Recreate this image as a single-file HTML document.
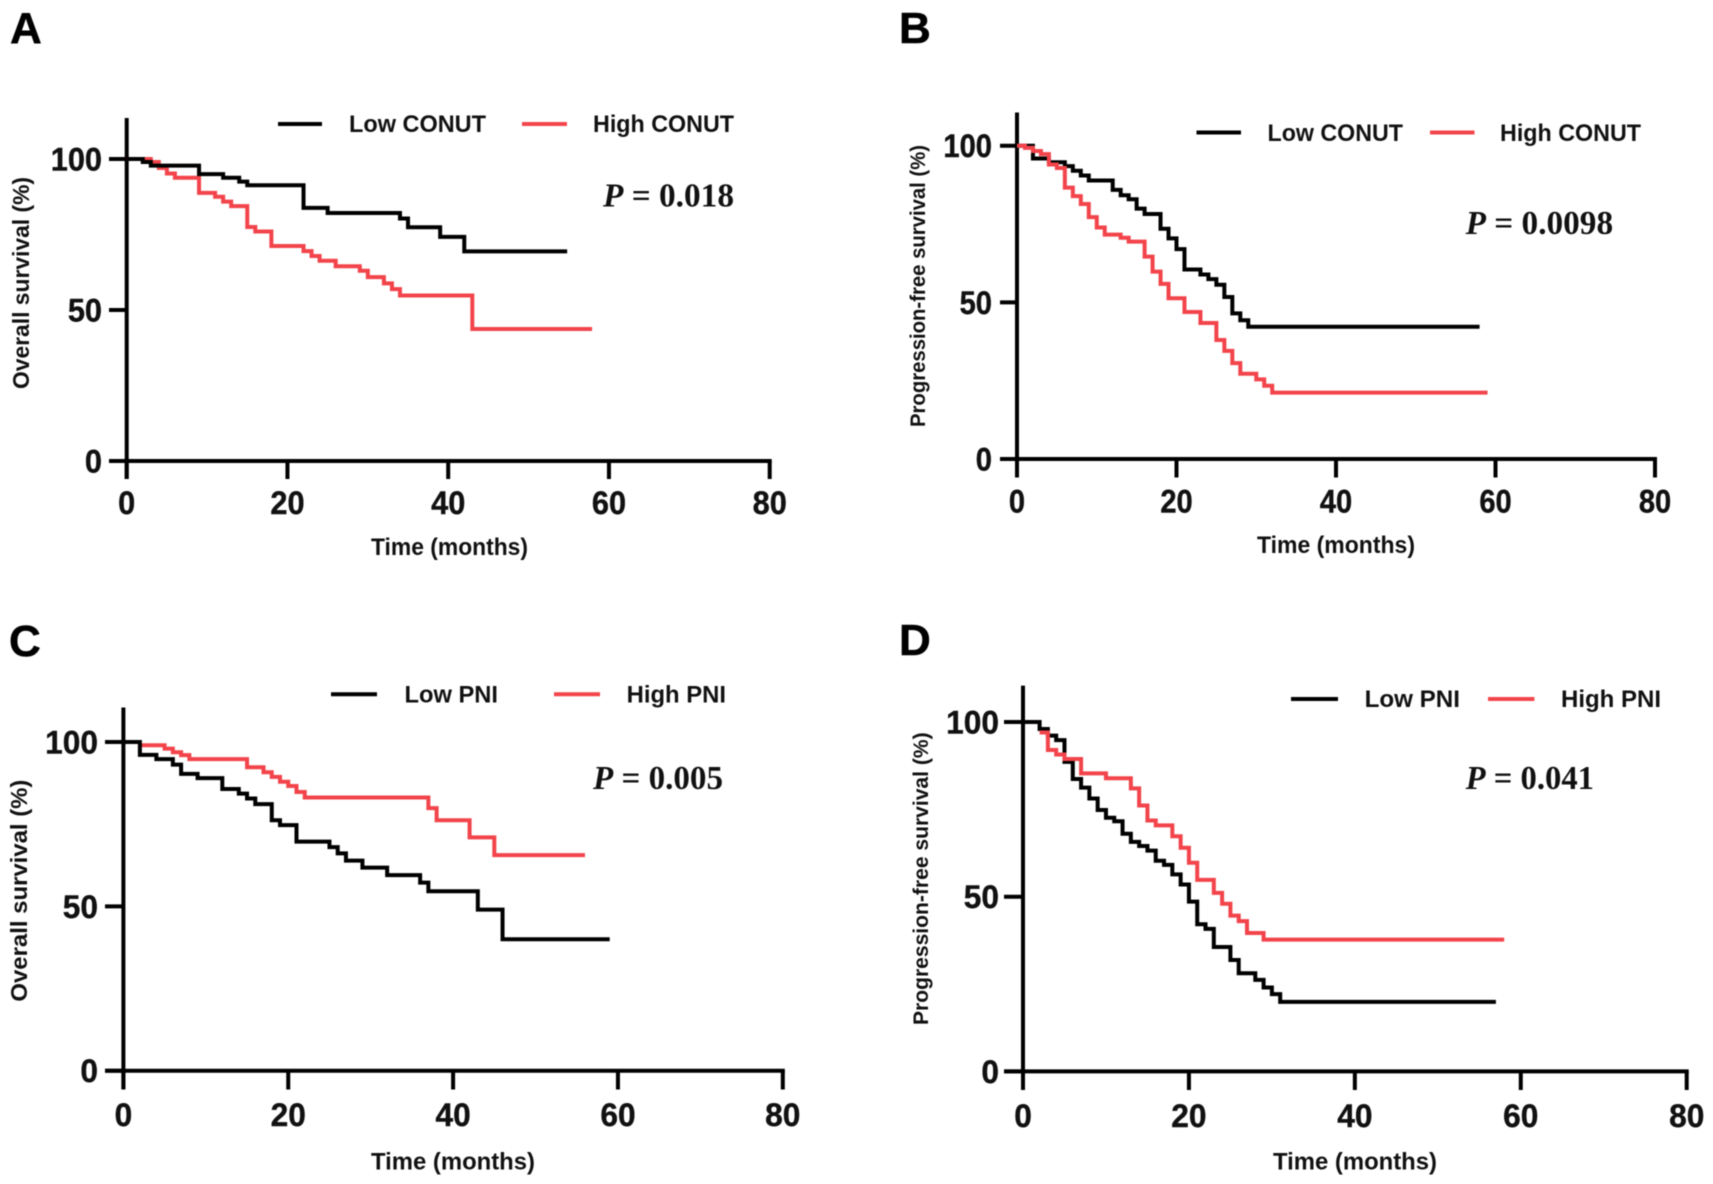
<!DOCTYPE html>
<html lang="en">
<head>
<meta charset="utf-8">
<title>Kaplan-Meier survival curves by CONUT and PNI</title>
<style>
html,body{margin:0;padding:0;background:#fff;}
svg{display:block;filter:blur(0.4px);}
text{font-family:"Liberation Sans",sans-serif;font-weight:bold;fill:#111;}
.p-value{font-family:"Liberation Serif",serif;}
.letter{font-size:44px;fill:#000;stroke:#000;stroke-width:0.5px;}
.legend{font-size:24px;}
.axis-title{font-size:24px;}
.axis-title-y{font-size:23px;}
.axis-title-y-small{font-size:21px;}
</style>
</head>
<body>
<svg id="figure" xmlns="http://www.w3.org/2000/svg" width="1713" height="1184" viewBox="0 0 1713 1184">
  <rect width="1713" height="1184" fill="#fff"/>

  <g id="panel-a">
    <text class="letter" x="10" y="43">A</text>
    <line x1="278" x2="322" y1="124" y2="124" stroke="#000" stroke-width="4"/>
    <text class="legend" x="349" y="132" textLength="137" lengthAdjust="spacingAndGlyphs">Low CONUT</text>
    <line x1="522" x2="567" y1="124" y2="124" stroke="#f2444a" stroke-width="4"/>
    <text class="legend" x="593" y="132" textLength="141" lengthAdjust="spacingAndGlyphs">High CONUT</text>
    <text class="p-value" x="603" y="206.5" font-size="34" textLength="131" lengthAdjust="spacingAndGlyphs"><tspan font-style="italic">P</tspan> = 0.018</text>
    <text class="axis-title" x="371" y="555" textLength="157" lengthAdjust="spacingAndGlyphs">Time (months)</text>
    <text class="axis-title-y" transform="translate(29,389) rotate(-90)" textLength="212" lengthAdjust="spacingAndGlyphs">Overall survival (%)</text>
  </g>

  <g id="panel-b">
    <text class="letter" x="899" y="43">B</text>
    <line x1="1196.5" x2="1241" y1="132.5" y2="132.5" stroke="#000" stroke-width="4"/>
    <text class="legend" x="1267.5" y="141" textLength="135.5" lengthAdjust="spacingAndGlyphs">Low CONUT</text>
    <line x1="1430" x2="1474.5" y1="132.5" y2="132.5" stroke="#f2444a" stroke-width="4"/>
    <text class="legend" x="1500" y="141" textLength="141" lengthAdjust="spacingAndGlyphs">High CONUT</text>
    <text class="p-value" x="1465.6" y="234" font-size="34" textLength="147.5" lengthAdjust="spacingAndGlyphs"><tspan font-style="italic">P</tspan> = 0.0098</text>
    <text class="axis-title" x="1257" y="553" textLength="158" lengthAdjust="spacingAndGlyphs">Time (months)</text>
    <text class="axis-title-y-small" transform="translate(925,427) rotate(-90)" textLength="282" lengthAdjust="spacingAndGlyphs">Progression-free survival (%)</text>
  </g>

  <g id="panel-c">
    <text class="letter" x="9" y="656">C</text>
    <line x1="331" x2="377" y1="694.3" y2="694.3" stroke="#000" stroke-width="4"/>
    <text class="legend" x="404.5" y="702.6" textLength="93.5" lengthAdjust="spacingAndGlyphs">Low PNI</text>
    <line x1="554" x2="600" y1="694.3" y2="694.3" stroke="#f2444a" stroke-width="4"/>
    <text class="legend" x="626.6" y="702.6" textLength="99.4" lengthAdjust="spacingAndGlyphs">High PNI</text>
    <text class="p-value" x="593" y="789" font-size="34" textLength="130" lengthAdjust="spacingAndGlyphs"><tspan font-style="italic">P</tspan> = 0.005</text>
    <text class="axis-title" x="371" y="1169.6" textLength="164" lengthAdjust="spacingAndGlyphs">Time (months)</text>
    <text class="axis-title-y" transform="translate(27,1001.6) rotate(-90)" textLength="222" lengthAdjust="spacingAndGlyphs">Overall survival (%)</text>
  </g>

  <g id="panel-d">
    <text class="letter" x="899" y="655">D</text>
    <line x1="1291" x2="1338" y1="699" y2="699" stroke="#000" stroke-width="4"/>
    <text class="legend" x="1364.6" y="707" textLength="95.4" lengthAdjust="spacingAndGlyphs">Low PNI</text>
    <line x1="1488" x2="1534.4" y1="699" y2="699" stroke="#f2444a" stroke-width="4"/>
    <text class="legend" x="1561" y="707" textLength="100" lengthAdjust="spacingAndGlyphs">High PNI</text>
    <text class="p-value" x="1465.6" y="789" font-size="34" textLength="128.4" lengthAdjust="spacingAndGlyphs"><tspan font-style="italic">P</tspan> = 0.041</text>
    <text class="axis-title" x="1273" y="1169.6" textLength="164" lengthAdjust="spacingAndGlyphs">Time (months)</text>
    <text class="axis-title-y-small" transform="translate(928,1025) rotate(-90)" textLength="292.6" lengthAdjust="spacingAndGlyphs">Progression-free survival (%)</text>
  </g>
</svg>

<script>
// Shared tick labels
const xTickLabels = [0, 20, 40, 60, 80];
const yTickLabels = [0, 50, 100];

// Panel A: overall survival by CONUT
const timesALow = [0, 2, 3, 9, 12, 14, 15, 22, 25, 34, 35, 39, 42, 54.8];
const survivalALow = [100, 99, 97.8, 95, 93.8, 92.5, 91.3, 83.8, 82.1, 80.3, 77.4, 74.2, 69.4, 69.4];
const timesAHigh = [0, 3, 4, 5, 6, 9, 11, 12, 13, 15, 16, 18, 22, 23, 24, 26, 29, 30, 32, 33, 34, 43, 57.9];
const survivalAHigh = [100, 99, 97, 95.2, 93.8, 88.8, 87.5, 85.9, 84.4, 77.5, 76, 71.2, 69.5, 67.9, 66.3, 64.5, 63, 60.9, 58.8, 56.9, 54.8, 43.7, 43.7];

// Panel B: progression-free survival by CONUT
const timesBLow = [0, 2, 4, 6, 7, 8, 9, 12, 13, 14, 15, 16, 18, 19, 20, 21, 23, 24, 25, 26, 27, 28, 29, 58];
const survivalBLow = [100, 95.9, 94.7, 93.5, 92, 90.5, 88.9, 85.9, 84.2, 82.9, 79.9, 78.2, 73.5, 70.4, 67, 60.5, 58.9, 57.4, 55.6, 51.7, 46.5, 44.3, 42.2, 42.2];
const timesBHigh = [0, 1, 2, 3, 4, 5, 6, 7, 8, 9, 10, 11, 13, 14, 16, 17, 18, 19, 21, 23, 25, 26, 27, 28, 30, 31, 32, 59];
const survivalBHigh = [100, 99.3, 98.3, 97.3, 94, 92.9, 86.6, 83.9, 81.4, 77.2, 73.9, 71.6, 70.6, 69.4, 64.6, 59.8, 55.9, 51.3, 46.9, 43.4, 38, 34.5, 30.6, 27.2, 25.4, 23.4, 21.2, 21.2];

// Panel C: overall survival by PNI
const timesCLow = [0, 2, 4, 6, 7, 9, 12, 14, 15, 16, 18, 19, 21, 25, 26, 27, 29, 32, 36, 37, 43, 46, 59];
const survivalCLow = [100, 96.1, 94.8, 93.1, 90.3, 89, 85.7, 84.3, 82.8, 81.1, 76.2, 74.7, 69.7, 68, 66.1, 63.9, 61.8, 59.5, 57.2, 54.6, 49, 40, 40];
const timesCHigh = [2, 5, 6, 7, 8, 15, 17, 18, 19, 20, 21, 22, 37, 38, 42, 45, 56];
const survivalCHigh = [99, 98, 96.9, 96, 94.8, 92.3, 90.8, 89.4, 87.9, 86.6, 84.8, 83.1, 79.9, 76.2, 71, 65.6, 65.6];

// Panel D: progression-free survival by PNI
const timesDLow = [0, 2, 3, 4, 5, 6, 7, 8, 9, 10, 11, 12, 13, 14, 15, 16, 17, 18, 19, 20, 21, 22, 23, 25, 26, 28, 29, 30, 31, 57];
const survivalDLow = [100, 98, 96.1, 94.8, 88.6, 83.7, 81.2, 78.1, 74.8, 72.6, 71.6, 68, 65.7, 64.5, 63.2, 60.3, 59.1, 56.4, 53.5, 48.6, 42.1, 40.8, 35.6, 31.9, 28.1, 26.2, 24, 22.1, 19.9, 19.9];
const timesDHigh = [2, 3, 4, 5, 7, 10, 13, 14, 15, 16, 18, 19, 20, 21, 23, 24, 25, 26, 27, 29, 58];
const survivalDHigh = [97, 92, 90.7, 89.4, 85.3, 83.9, 81, 76.1, 71.8, 70.4, 67.3, 64, 59.7, 54.8, 51.1, 48, 44.6, 43, 39.6, 37.7, 37.7];

const BLACK = '#000';
const RED = '#f2444a';
const SVG_NS = 'http://www.w3.org/2000/svg';
const LINE_WIDTH = 4;
const TICK_FONT = 32;

function make(parent, tag, attrs) {
  const el = document.createElementNS(SVG_NS, tag);
  for (const k in attrs) el.setAttribute(k, attrs[k]);
  parent.appendChild(el);
  return el;
}

function stepPath(times, survival, xScale, yScale) {
  let d = 'M' + xScale(times[0]) + ' ' + yScale(survival[0]);
  for (let i = 1; i < times.length; i++) {
    d += 'H' + xScale(times[i]) + 'V' + yScale(survival[i]);
  }
  return d;
}

function drawPanel(cfg) {
  const root = document.getElementById(cfg.id);
  const xScale = function (t) { return cfg.x0 + (cfg.x80 - cfg.x0) * t / 80; };
  const yScale = function (s) { return cfg.y0 + (cfg.y100 - cfg.y0) * s / 100; };

  const yAxis = make(root, 'line', {x1: xScale(0), x2: xScale(0), y1: cfg.top, y2: cfg.bottom, stroke: '#000', 'stroke-width': LINE_WIDTH});
  
  

  const xAxis = make(root, 'line', {x1: cfg.left, x2: xScale(80) + 2, y1: yScale(0), y2: yScale(0), stroke: '#000', 'stroke-width': LINE_WIDTH});
  
  

  xTickLabels.forEach(function (v) {
    const tick = make(root, 'line', {x1: xScale(v), x2: xScale(v), y1: yScale(0), y2: cfg.bottom, stroke: '#000', 'stroke-width': LINE_WIDTH});
    
    
    const label = make(root, 'text', {'text-anchor': 'middle', 'font-size': TICK_FONT, stroke: '#111', 'stroke-width': 0.4, transform: 'translate(' + xScale(v) + ',' + cfg.xLabelY + ') scale(' + cfg.sx + ',1)'});
    
    
    label.textContent = v;
  });

  yTickLabels.forEach(function (v) {
    const tick = make(root, 'line', {x1: cfg.left, x2: xScale(0), y1: yScale(v), y2: yScale(v), stroke: '#000', 'stroke-width': LINE_WIDTH});
    
    
    const label = make(root, 'text', {'text-anchor': 'end', 'font-size': TICK_FONT, stroke: '#111', 'stroke-width': 0.4, transform: 'translate(' + cfg.yLabelX + ',' + (yScale(v) + 11.5) + ') scale(' + cfg.sx + ',1)'});
    
    
    label.textContent = v;
  });

  cfg.series.forEach(function (s) {
    const curve = make(root, 'path', {d: stepPath(s.times, s.survival, xScale, yScale), fill: 'none', stroke: s.color, 'stroke-width': LINE_WIDTH, 'stroke-linejoin': 'miter'});
    
    
  });
}

drawPanel({id: 'panel-a', x0: 126.7, x80: 769.7, y0: 461, y100: 159, top: 118, bottom: 479, left: 109, yLabelX: 102, xLabelY: 514, sx: 0.96,
  series: [
    {name: 'high-conut-curve', times: timesAHigh, survival: survivalAHigh, color: RED},
    {name: 'low-conut-curve', times: timesALow, survival: survivalALow, color: BLACK}
  ]});

drawPanel({id: 'panel-b', x0: 1017, x80: 1655, y0: 459, y100: 145.7, top: 112.5, bottom: 477.5, left: 1000, yLabelX: 992, xLabelY: 512.6, sx: 0.91,
  series: [
    {name: 'low-conut-curve', times: timesBLow, survival: survivalBLow, color: BLACK},
    {name: 'high-conut-curve', times: timesBHigh, survival: survivalBHigh, color: RED}
  ]});

drawPanel({id: 'panel-c', x0: 123.4, x80: 782.8, y0: 1070.7, y100: 742, top: 707.5, bottom: 1089.5, left: 105, yLabelX: 98, xLabelY: 1126, sx: 0.99,
  series: [
    {name: 'high-pni-curve', times: timesCHigh, survival: survivalCHigh, color: RED},
    {name: 'low-pni-curve', times: timesCLow, survival: survivalCLow, color: BLACK}
  ]});

drawPanel({id: 'panel-d', x0: 1023, x80: 1686.7, y0: 1071.4, y100: 722, top: 685.6, bottom: 1090, left: 1004, yLabelX: 999, xLabelY: 1127, sx: 0.99,
  series: [
    {name: 'low-pni-curve', times: timesDLow, survival: survivalDLow, color: BLACK},
    {name: 'high-pni-curve', times: timesDHigh, survival: survivalDHigh, color: RED}
  ]});
</script>
</body>
</html>
